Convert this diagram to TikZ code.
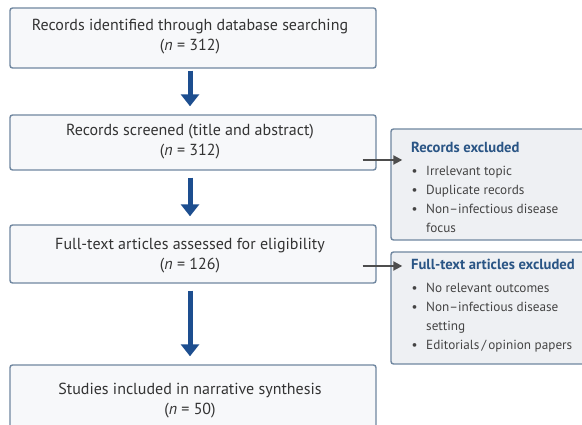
\documentclass[tikz,border=0pt]{standalone}
\usepackage{fontspec}
\setmainfont{PT Sans}
\usetikzlibrary{arrows.meta,calc}
\definecolor{boxfill}{HTML}{F7F8FA}
\definecolor{boxline}{HTML}{7087A0}
\definecolor{sidefill}{HTML}{EEF0F3}
\definecolor{flowblue}{HTML}{1D4E8F}
\definecolor{titleblue}{HTML}{2A5585}
\definecolor{txt}{HTML}{333333}
\definecolor{graytxt}{HTML}{444444}
\definecolor{arrgray}{HTML}{4D4D4D}
\tikzset{
  mainbox/.style={draw=boxline, line width=1.4pt, fill=boxfill, rounded corners=2.5pt, inner sep=0pt},
  sidebox/.style={draw=boxline, line width=1.4pt, fill=sidefill, rounded corners=2.5pt, inner sep=0pt},
  maintext/.style={align=center, text=txt, font=\fontsize{16}{20}\selectfont, inner sep=0pt},
  sidetext/.style={align=left, text=graytxt, font=\fontsize{13.2}{19}\selectfont, inner sep=0pt, anchor=north west},
  flowarrow/.style={draw=flowblue, line width=5pt, -{Triangle[width=18pt,length=12pt]}},
  sidearrow/.style={draw=arrgray, line width=2pt, -{Triangle[width=9pt,length=9pt]}},
}
\newcommand{\bul}{\makebox[15pt][l]{\hspace{0.5pt}\textbullet}}
\newcommand{\nobul}{\makebox[15pt][l]{}}
\newcommand{\sidetitle}[1]{\textcolor{titleblue}{\fontsize{14.6}{19}\selectfont\bfseries #1}}
\begin{document}
\begin{tikzpicture}[x=1pt,y=1pt]
\clip (0,0) rectangle (582,425);
\fill[white] (0,0) rectangle (582,425);
% main boxes
\node[mainbox, minimum width=366pt, minimum height=60pt] (b1) at (193,387) {};
\node[mainbox, minimum width=366pt, minimum height=55pt] (b2) at (193,282.5) {};
\node[mainbox, minimum width=366pt, minimum height=58pt] (b3) at (193,171) {};
\node[mainbox, minimum width=366pt, minimum height=72pt] (b4) at (193,24) {};
\node[maintext] (t1) at (190,388) {Records identified through database searching\\(\textit{n} = 312)};
\node[maintext] (t2) at (190,283) {Records screened (title and abstract)\\(\textit{n} = 312)};
\node[maintext] (t3) at (190,169.5) {Full-text articles assessed for eligibility\\(\textit{n} = 126)};
\node[maintext] (t4) at (190,24.5) {Studies included in narrative synthesis\\(\textit{n} = 50)};
% side boxes
\node[sidebox, minimum width=209pt, minimum height=111pt] (s1) at (495.5,240.5) {};
\node[sidebox, minimum width=209pt, minimum height=112pt] (s2) at (495.5,117) {};
\node[sidetext] (st1) at (411,283.5) {\sidetitle{Records excluded}\\[4pt]
\bul Irrelevant topic\\
\bul Duplicate records\\
\bul Non--infectious disease\\
\nobul focus};
\node[sidetext] (st2) at (411,166.5) {\sidetitle{Full-text articles excluded}\\[4pt]
\bul No relevant outcomes\\
\bul Non--infectious disease\\
\nobul setting\\
\bul Editorials\,/\,opinion papers};
% flow arrows
\draw[flowarrow] ($(b1.south)+(-3,-2)$) -- ($(b2.north)+(-3,8)$);
\draw[flowarrow] ($(b2.south)+(-3,-7)$) -- ($(b3.north)+(-3,8)$);
\draw[flowarrow] ($(b3.south)+(-3,-7)$) -- ($(b4.north)+(-3,8)$);
% side arrows
\draw[sidearrow] ($(b2.east)+(-14,-17.5)$) -- ($(s1.west)+(12,24.5)$);
\draw[sidearrow] ($(b3.east)+(-14,-12)$) -- ($(s2.west)+(12,42)$);
\end{tikzpicture}
\end{document}
